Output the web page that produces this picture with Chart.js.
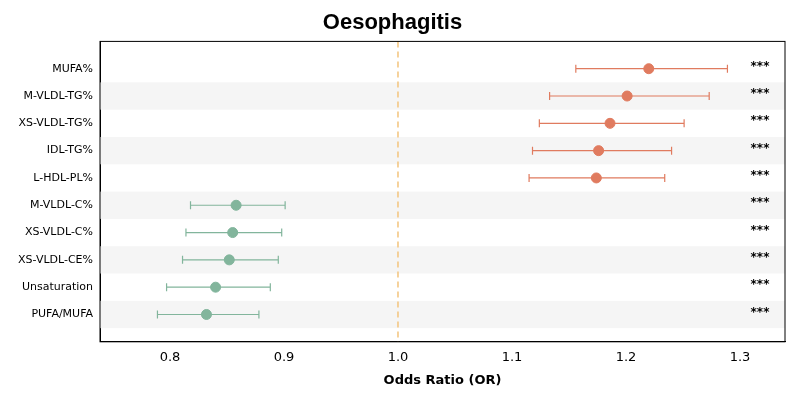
<!DOCTYPE html>
<html><head><meta charset="utf-8">
<script src="https://cdn.jsdelivr.net/npm/chart.js@4"></script>
<style>body{margin:0;background:#fff}#wrap{width:800px;height:400px}</style>
</head><body><div id="wrap"><canvas id="c"></canvas></div>
<script>
const labels = ['MUFA%','M-VLDL-TG%','XS-VLDL-TG%','IDL-TG%','L-HDL-PL%','M-VLDL-C%','XS-VLDL-C%','XS-VLDL-CE%','Unsaturation','PUFA/MUFA'];
const orValues = [1.220,1.201,1.186,1.176,1.174,0.858,0.855,0.852,0.840,0.832];
const lower = [1.156,1.133,1.124,1.118,1.115,0.818,0.814,0.811,0.797,0.789];
const upper = [1.289,1.273,1.251,1.240,1.234,0.901,0.898,0.895,0.888,0.878];
const stars = ['***','***','***','***','***','***','***','***','***','***'];
const xTicks = [0.8,0.9,1.0,1.1,1.2,1.3];

const orange = '#e07b5f', green = '#82b59c';
const col = v => v > 1 ? orange : green;

const extras = {
  id: 'extras',
  beforeDatasetsDraw(chart) {
    const {ctx, chartArea: a, scales: {x, y}} = chart;
    ctx.save();
    ctx.fillStyle = '#f5f5f5';
    labels.forEach((l, i) => {
      if (i % 2 === 1) {
        const t = y.getPixelForValue(i - 0.5), b = y.getPixelForValue(i + 0.5);
        ctx.fillRect(a.left, t, a.right - a.left, b - t);
      }
    });
    ctx.strokeStyle = '#f3c47c'; ctx.lineWidth = 1.5; ctx.setLineDash([6, 4]);
    const px = x.getPixelForValue(1.0);
    ctx.beginPath(); ctx.moveTo(px, a.top); ctx.lineTo(px, a.bottom); ctx.stroke();
    ctx.setLineDash([]);
    ctx.lineWidth = 1.2;
    orValues.forEach((v, i) => {
      const py = y.getPixelForValue(i), l = x.getPixelForValue(lower[i]), r = x.getPixelForValue(upper[i]);
      ctx.strokeStyle = col(v);
      ctx.beginPath();
      ctx.moveTo(l, py); ctx.lineTo(r, py);
      ctx.moveTo(l, py - 4); ctx.lineTo(l, py + 4);
      ctx.moveTo(r, py - 4); ctx.lineTo(r, py + 4);
      ctx.stroke();
    });
    ctx.fillStyle = '#000'; ctx.font = 'bold 12px "DejaVu Sans"'; ctx.textAlign = 'center'; ctx.textBaseline = 'middle';
    stars.forEach((s, i) => ctx.fillText(s, 760, y.getPixelForValue(i) - 2));
    ctx.restore();
  }
};

new Chart(document.getElementById('c'), {
  type: 'scatter',
  data: { datasets: [{
    data: orValues.map((v, i) => ({x: v, y: i})),
    pointBackgroundColor: orValues.map(col),
    pointBorderColor: orValues.map(col),
    pointRadius: 5
  }]},
  options: {
    responsive: true, maintainAspectRatio: false, animation: false,
    layout: { padding: { top: 0, right: 15, bottom: 8, left: 0 } },
    plugins: {
      legend: { display: false }, tooltip: { enabled: false },
      title: { display: true, text: 'Oesophagitis', color: '#000', font: { family: 'Liberation Sans', size: 22, weight: 'bold' }, padding: { top: 10, bottom: 5 } }
    },
    scales: {
      x: {
        min: 0.7386, max: 1.3395,
        afterBuildTicks: ax => { ax.ticks = xTicks.map(v => ({value: v})); },
        ticks: { color: '#000', font: { family: 'DejaVu Sans', size: 13 }, callback: v => (Math.round(v * 10) / 10).toFixed(1) },
        grid: { display: false, drawTicks: true, tickLength: 5, tickColor: '#000' },
        border: { color: '#000' },
        title: { display: true, text: 'Odds Ratio (OR)', color: '#000', font: { family: 'DejaVu Sans', size: 13, weight: 'bold' } }
      },
      y: {
        min: -1, max: 10, reverse: true,
        afterBuildTicks: ax => { ax.ticks = labels.map((l, i) => ({value: i})); },
        afterFit: ax => { ax.width = 100; },
        ticks: { color: '#000', font: { family: 'DejaVu Sans', size: 11 }, callback: v => labels[v] },
        grid: { display: false, tickLength: 4, tickColor: '#000' },
        border: { color: '#000' }
      }
    }
  },
  plugins: [extras, {
    id: 'frame',
    afterDraw(chart) {
      const {ctx, chartArea: a} = chart;
      ctx.save(); ctx.strokeStyle = '#000'; ctx.lineWidth = 1;
      ctx.strokeRect(a.left, a.top, a.right - a.left, a.bottom - a.top);
      ctx.restore();
    }
  }]
});
</script></body></html>
